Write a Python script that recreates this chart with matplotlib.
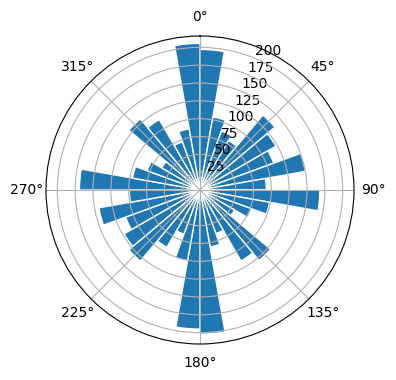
import matplotlib
matplotlib.use('agg')
import matplotlib.pyplot as plt
import numpy as np

# one sector every 10 degrees, clockwise from north
sectors = np.arange(0, 360, 10)
counts = [197, 104, 88, 80, 137, 123, 110, 150, 93,
          168, 99, 77, 56, 129, 115, 65, 81, 202,
          195, 101, 66, 93, 130, 123, 111, 144, 99,
          169, 96, 79, 62, 130, 114, 72, 87, 205.6]

fig = plt.figure(figsize=(3.96, 3.8), dpi=100)
ax = fig.add_axes([46/396, 36/380, 308/396, 308/380], projection='polar')
ax.set_theta_zero_location('N')
ax.set_theta_direction(-1)

ax.bar(np.deg2rad(sectors), counts, width=np.deg2rad(10), align='edge',
       color='#1f77b4', edgecolor='white', linewidth=1)

fig.savefig('out.png', dpi=100)
